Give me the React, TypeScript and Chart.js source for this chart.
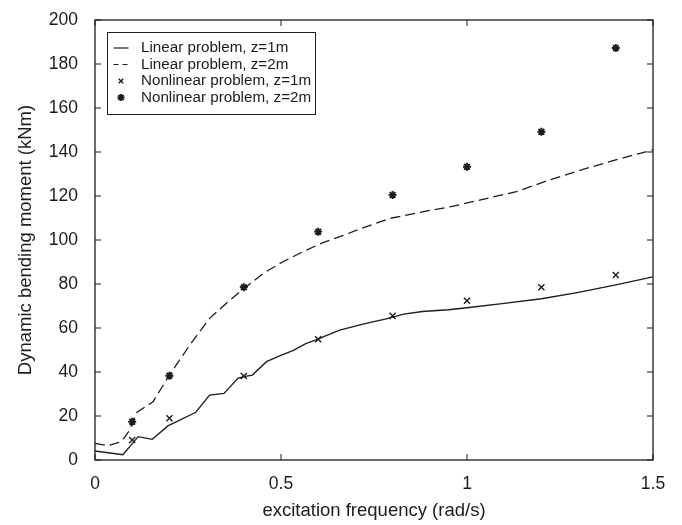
import React, { useEffect, useRef } from "react";
import { Chart, registerables } from "chart.js";

Chart.register(...registerables);

// Linear problem, z=1m (solid)
const linZ1X = [0, 0.075, 0.116, 0.154, 0.196, 0.271, 0.308, 0.347, 0.384, 0.4, 0.423, 0.461, 0.501, 0.532, 0.568, 0.6, 0.613, 0.658, 0.72, 0.78, 0.83, 0.88, 0.95, 1.0, 1.1, 1.2, 1.3, 1.4, 1.5];
const linZ1Y = [4.1, 2.4, 10.6, 9.4, 15.5, 21.7, 29.5, 30.3, 37.1, 37.9, 38.6, 44.7, 47.7, 49.7, 53, 54.9, 56, 59, 61.8, 64, 66.3, 67.5, 68.3, 69.2, 71.2, 73.3, 76.2, 79.6, 83.2];

// Linear problem, z=2m (dashed)
const linZ2X = [0, 0.035, 0.071, 0.084, 0.093, 0.111, 0.156, 0.199, 0.255, 0.308, 0.358, 0.398, 0.452, 0.505, 0.559, 0.613, 0.658, 0.72, 0.792, 0.88, 0.967, 1.043, 1.133, 1.222, 1.312, 1.4, 1.5];
const linZ2Y = [7.6, 6.5, 8.3, 11.4, 13.6, 21.5, 26.5, 38.3, 52.3, 64.4, 72, 77.6, 84.8, 90.1, 94.7, 98.8, 101.5, 105.5, 109.8, 112.8, 115.5, 118.5, 122, 127.3, 132.1, 136.4, 141];

// Nonlinear problem markers
const nonX = [0.1, 0.2, 0.4, 0.6, 0.8, 1.0, 1.2, 1.4];
const nonZ1Y = [9.1, 19, 38.2, 54.9, 65.5, 72.4, 78.5, 84.1];
const nonZ2Y = [17.4, 38.3, 78.5, 103.8, 120.5, 133.3, 149.2, 187.3];

const xTicks = [0, 0.5, 1, 1.5];
const yTicks = [0, 20, 40, 60, 80, 100, 120, 140, 160, 180, 200];

const seriesLabels = [
  "Linear problem, z=1m",
  "Linear problem, z=2m",
  "Nonlinear problem, z=1m",
  "Nonlinear problem, z=2m",
];

const FONT = "'Liberation Sans', Arial, Helvetica, sans-serif";
const INK = "#1c1c1c";

const toPts = (xs: number[], ys: number[]) => xs.map((x, i) => ({ x, y: ys[i] }));

const framePlugin = {
  id: "frameAndLegend",
  afterDraw(chart: any) {
    const { ctx, chartArea } = chart;
    const { left, right, top, bottom } = chartArea;
    const xs = chart.scales.x;
    const ys = chart.scales.y;
    ctx.save();
    ctx.strokeStyle = INK;
    ctx.lineWidth = 1.3;
    ctx.strokeRect(left, top, right - left, bottom - top);
    const tl = 6;
    ctx.lineWidth = 1;
    ctx.beginPath();
    xTicks.forEach((v) => {
      const px = xs.getPixelForValue(v);
      ctx.moveTo(px, bottom);
      ctx.lineTo(px, bottom - tl);
      ctx.moveTo(px, top);
      ctx.lineTo(px, top + tl);
    });
    yTicks.forEach((v) => {
      const py = ys.getPixelForValue(v);
      ctx.moveTo(left, py);
      ctx.lineTo(left + tl, py);
      ctx.moveTo(right, py);
      ctx.lineTo(right - tl, py);
    });
    ctx.stroke();

    // legend
    const bx = left + 12.5;
    const by = top + 12.5;
    const bw = 208;
    const bh = 82;
    ctx.fillStyle = "#ffffff";
    ctx.fillRect(bx, by, bw, bh);
    ctx.lineWidth = 1;
    ctx.strokeRect(bx, by, bw, bh);
    const rowH = 16.5;
    const row0 = by + 15.5;
    ctx.font = `15.2px ${FONT}`;
    ctx.textBaseline = "middle";
    ctx.fillStyle = INK;
    seriesLabels.forEach((lab, i) => {
      const ry = row0 + i * rowH;
      const sx0 = bx + 6;
      const sx1 = bx + 21;
      ctx.strokeStyle = INK;
      if (i === 0 || i === 1) {
        ctx.lineWidth = 1.2;
        ctx.setLineDash(i === 1 ? [5, 4] : []);
        ctx.beginPath();
        ctx.moveTo(sx0, ry);
        ctx.lineTo(sx1, ry);
        ctx.stroke();
        ctx.setLineDash([]);
      } else {
        const cx = (sx0 + sx1) / 2;
        ctx.lineWidth = i === 2 ? 1.4 : 1.8;
        ctx.beginPath();
        const r = i === 2 ? 3.2 : 3.6;
        const d = r * Math.SQRT1_2;
        ctx.moveTo(cx - d, ry - d);
        ctx.lineTo(cx + d, ry + d);
        ctx.moveTo(cx - d, ry + d);
        ctx.lineTo(cx + d, ry - d);
        if (i === 3) {
          ctx.moveTo(cx - r, ry);
          ctx.lineTo(cx + r, ry);
          ctx.moveTo(cx, ry - r);
          ctx.lineTo(cx, ry + r);
        }
        ctx.stroke();
      }
      ctx.fillText(lab, bx + 33.5, ry);
    });
    ctx.restore();
  },
};

export default function App() {
  const ref = useRef<HTMLCanvasElement>(null);
  useEffect(() => {
    if (!ref.current) return;
    const chart = new Chart(ref.current, {
      type: "scatter",
      data: {
        datasets: [
          {
            label: seriesLabels[0],
            data: toPts(linZ1X, linZ1Y),
            showLine: true,
            borderColor: INK,
            borderWidth: 1.3,
            pointRadius: 0,
            tension: 0,
          },
          {
            label: seriesLabels[1],
            data: toPts(linZ2X, linZ2Y),
            showLine: true,
            borderColor: INK,
            borderWidth: 1.3,
            borderDash: [10, 5],
            pointRadius: 0,
            tension: 0,
          },
          {
            label: seriesLabels[2],
            data: toPts(nonX, nonZ1Y),
            showLine: false,
            pointStyle: "crossRot",
            pointRadius: 4.3,
            borderColor: INK,
            backgroundColor: INK,
            pointBorderWidth: 1.4,
          },
          {
            label: seriesLabels[3],
            data: toPts(nonX, nonZ2Y),
            showLine: false,
            pointStyle: "star",
            pointRadius: 4,
            borderColor: INK,
            backgroundColor: INK,
            pointBorderWidth: 1.9,
          },
        ],
      },
      options: {
        animation: false,
        responsive: false,
        layout: { padding: { top: 20, right: 29, bottom: 0, left: 0 } },
        plugins: {
          legend: { display: false },
          tooltip: { enabled: false },
        },
        scales: {
          x: {
            type: "linear",
            min: 0,
            max: 1.5,
            afterFit: (s: any) => {
              s.height = 65;
              s.paddingLeft = 0;
              s.paddingRight = 0;
            },
            afterBuildTicks: (s: any) => {
              s.ticks = xTicks.map((v) => ({ value: v }));
            },
            grid: { display: false, drawTicks: false },
            border: { display: false },
            ticks: {
              padding: 14,
              color: INK,
              font: { family: FONT, size: 17.5 },
              maxRotation: 0,
              callback: (v: any) => String(v),
            },
            title: {
              display: true,
              text: "excitation frequency (rad/s)",
              color: INK,
              font: { family: FONT, size: 18.5 },
              padding: { top: 0, bottom: 3 },
            },
          },
          y: {
            type: "linear",
            min: 0,
            max: 200,
            afterFit: (s: any) => {
              s.width = 95;
              s.paddingTop = 0;
              s.paddingBottom = 0;
            },
            afterBuildTicks: (s: any) => {
              s.ticks = yTicks.map((v) => ({ value: v }));
            },
            grid: { display: false, drawTicks: false },
            border: { display: false },
            ticks: {
              padding: 17,
              color: INK,
              font: { family: FONT, size: 17.5 },
              callback: (v: any) => String(v),
            },
            title: {
              display: true,
              text: "Dynamic bending moment (kNm)",
              color: INK,
              font: { family: FONT, size: 18.5 },
              padding: { top: 15, bottom: 0 },
            },
          },
        },
      },
      plugins: [framePlugin],
    });
    return () => chart.destroy();
  }, []);
  return (
    <div style={{ position: "fixed", left: 0, top: 0, width: 682, height: 525, background: "#fff" }}>
      <canvas ref={ref} width={682} height={525} style={{ display: "block" }} />
    </div>
  );
}
